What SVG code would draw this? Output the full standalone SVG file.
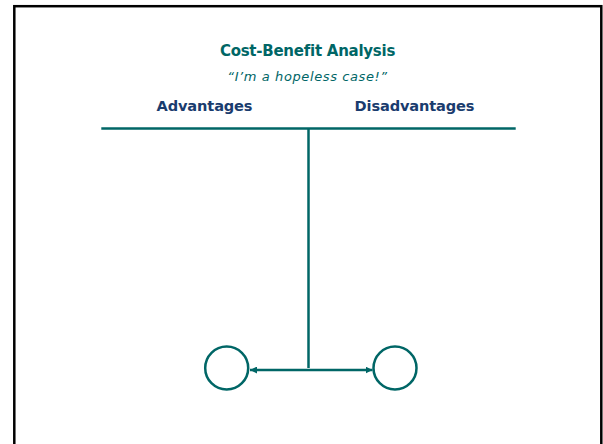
<svg xmlns="http://www.w3.org/2000/svg" width="603" height="444" viewBox="0 0 603 444">
<style>
.t{fill:#006666;font-family:"DejaVu Sans",Verdana,sans-serif;text-anchor:middle}
.h{fill:#1a3c6e;font-family:"DejaVu Sans",Verdana,sans-serif;font-weight:bold;font-size:14.6px;letter-spacing:-0.15px;text-anchor:middle}
.ln{stroke:#006666;stroke-width:2.5;fill:none}
</style>
<defs>
<marker id="ah" viewBox="0 0 10 10" refX="10" refY="5" markerWidth="7" markerHeight="7" markerUnits="userSpaceOnUse" orient="auto-start-reverse">
<path d="M0,0 L10,5 L0,10 z" fill="#006666"/>
</marker>
</defs>
<rect x="14.3" y="6.2" width="587" height="450" fill="#fff" stroke="#000" stroke-width="2.5"/>
<g id="title">
<text class="t" x="307.5" y="55.5" font-weight="bold" font-size="15" letter-spacing="-0.25">Cost-Benefit Analysis</text>
<text class="t" x="307.5" y="80.7" font-style="italic" font-size="13" letter-spacing="0.6">“I’m a hopeless case!”</text>
</g>
<g id="advantages"><text class="h" x="204.5" y="111">Advantages</text></g>
<g id="disadvantages"><text class="h" x="414.5" y="111">Disadvantages</text></g>
<g id="left-circle"><circle class="ln" cx="226.7" cy="368" r="21.5"/></g>
<g id="right-circle"><circle class="ln" cx="395" cy="368" r="21.5"/></g>
<g id="connectors">
<line class="ln" x1="101.3" y1="128.6" x2="515.7" y2="128.6"/>
<line class="ln" x1="308.5" y1="129" x2="308.5" y2="368"/>
<line class="ln" x1="250" y1="370" x2="372.5" y2="370" marker-start="url(#ah)" marker-end="url(#ah)"/>
</g>
</svg>
